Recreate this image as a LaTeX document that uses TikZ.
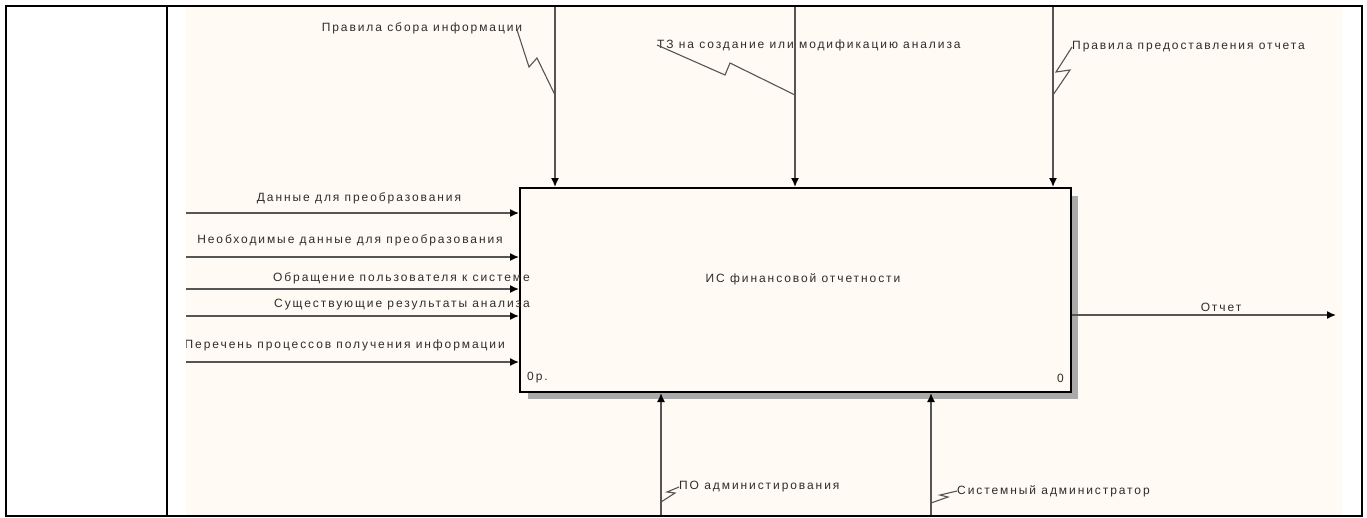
\documentclass[tikz,border=0pt]{standalone}
\usepackage{fontspec}
\setmainfont{Liberation Sans}[LetterSpace=16]
\usetikzlibrary{arrows.meta}
\definecolor{cream}{RGB}{255,250,243}
\definecolor{ln}{RGB}{85,85,85}
\definecolor{shd}{RGB}{170,170,170}
\definecolor{txt}{RGB}{45,45,45}
\begin{document}
\begin{tikzpicture}[x=1pt,y=-1pt,
  lbl/.style={font=\fontsize{12}{14}\selectfont, inner sep=0pt, text=txt},
  flow/.style={ln, line width=1.5pt, -{Latex[length=9pt,width=8pt,color=black]}},
  sq/.style={ln, line width=1.1pt}]
\useasboundingbox (0,0) rectangle (1367,517);
\fill[white] (0,0) rectangle (1367,517);
\fill[cream] (186,6) rectangle (1342,516);
\begin{scope}
\clip (186,6) rectangle (1342,516);
% shadow and box
\fill[shd] (528,196) rectangle (1078,399);
\node[draw=black, line width=2pt, fill=cream, minimum width=551pt, minimum height=204pt, anchor=north west, inner sep=0pt] (box) at (519,187) {};
\node[lbl] (boxt) at (803,279) {ИС финансовой отчетности};
\node[lbl, anchor=west] (num1) at (527,378) {0р.};
\node[lbl, anchor=east] (num2) at (1064,378) {0};
% controls (top)
\coordinate (c1) at (555,6);
\coordinate (c2) at (795,6);
\coordinate (c3) at (1053,6);
\draw[flow] (c1) -- (c1 |- box.north);
\draw[flow] (c2) -- (c2 |- box.north);
\draw[flow] (c3) -- (c3 |- box.north);
\node[lbl] (t1) at (422,28) {Правила сбора информации};
\node[lbl, anchor=west] (t2) at (657,45) {ТЗ на создание или модификацию анализа};
\node[lbl, anchor=west] (t3) at (1072,47) {Правила предоставления отчета};
\draw[sq] ([xshift=-6pt]t1.east) -- (529,67) -- (537,58) -- (c1 |- 0,95);
\draw[sq] (t2.west) -- (725,75) -- (730,63) -- (c2 |- 0,95);
\draw[sq] (t3.west) -- (1056,72) -- (1070,70) -- (c3 |- 0,95);
% inputs (left)
\coordinate (i1) at (186,213);
\coordinate (i2) at (186,257);
\coordinate (i3) at (186,289);
\coordinate (i4) at (186,316);
\coordinate (i5) at (186,362);
\draw[flow] (i1) -- (i1 -| box.west);
\draw[flow] (i2) -- (i2 -| box.west);
\draw[flow] (i3) -- (i3 -| box.west);
\draw[flow] (i4) -- (i4 -| box.west);
\draw[flow] (i5) -- (i5 -| box.west);
\node[lbl] (l1) at (359,198) {Данные для преобразования};
\node[lbl] (l2) at (350,240) {Необходимые данные для преобразования};
\node[lbl, anchor=east] (l3) at (530,278) {Обращение пользователя к системе};
\node[lbl, anchor=east] (l4) at (530,305) {Существующие результаты анализа};
\node[lbl, anchor=east] (l5) at (505,345) {Перечень процессов получения информации};
% output
\coordinate (o1) at (1336,315);
\draw[flow] (o1 -| box.east) -- (o1);
\node[lbl] (ol) at (1221,307) {Отчет};
% mechanisms (bottom)
\coordinate (m1) at (661,516);
\coordinate (m2) at (931,516);
\draw[flow] (m1) -- (m1 |- box.south);
\draw[flow] (m2) -- (m2 |- box.south);
\node[lbl, anchor=west] (b1) at (679,487) {ПО администирования};
\node[lbl, anchor=west] (b2) at (957,491) {Системный администратор};
\draw[sq] (b1.west) -- (667,492) -- (675,493) -- (m1 |- 0,502);
\draw[sq] (b2.west) -- (940,495) -- (948,497) -- (m2 |- 0,503);
\end{scope}
% frame
\draw[black, line width=2.4pt] (6,6) rectangle (1362,516);
\draw[black, line width=2.4pt] (167,6) -- (167,516);
\end{tikzpicture}
\end{document}
